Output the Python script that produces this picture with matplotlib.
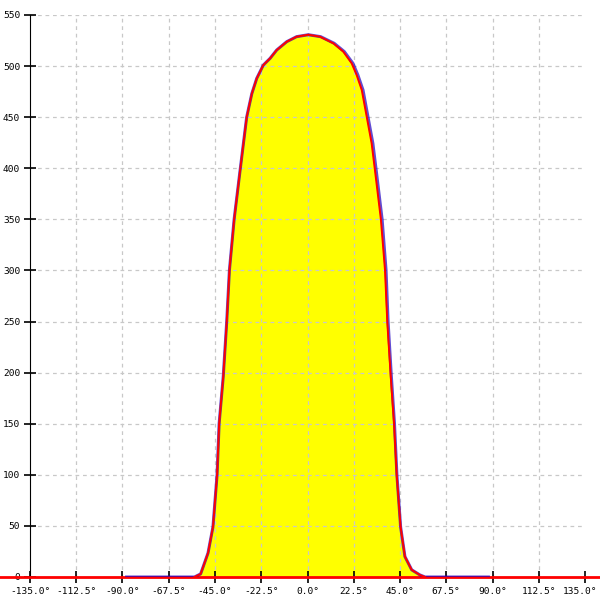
import numpy as np
import matplotlib
matplotlib.use('Agg')
import matplotlib.pyplot as plt
import matplotlib.transforms as mtransforms

# red trace: angle (deg) and value
red_deg = [-55, -52, -50.8, -48.4, -46, -44, -43, -41, -39.3, -38, -35.7, -32.8, -31.2,
           -29.6, -27.1, -24.7, -21.5, -18.2, -15.0, -10.1, -5.3, 0.4, 6.1, 12.6, 17.4,
           21.5, 23.9, 26.4, 28.8, 31.2, 32.8, 35.7, 37.7, 38.8, 40.5, 42.1, 43.4, 45.3,
           47.4, 50.7, 54.7, 57.2]
red_val = [0, 3, 9.8, 23.5, 49, 100, 150, 196, 250, 300, 350, 398, 424,
           450, 473, 488, 501, 507.6, 515.7, 523.9, 528.8, 530.7, 528.8, 522.3, 514.2,
           502.7, 491.3, 476.6, 450.5, 424.4, 398.3, 350, 300.5, 250, 196, 150.7, 100, 49,
           20, 7, 2, 0]

# blue trace: same shape, slightly wider on the right shoulder, spans -88..88
blue_deg = [-88, -55, -52, -50.8, -48.4, -46, -44, -43, -41, -39.3, -38, -35.7, -32.8, -31.2,
            -29.6, -27.1, -24.7, -21.5, -18.2, -15.0, -10.1, -5.3, 0.4, 6.4, 13.0, 17.9,
            22.1, 24.5, 27.0, 29.4, 31.8, 33.4, 36.3, 38.2, 39.2, 40.8, 42.3, 43.5, 45.3,
            47.4, 50.7, 54.7, 57.2, 88]
blue_val = [0, 0, 3, 9.8, 23.5, 49, 100, 150, 196, 250, 300, 350, 398, 424,
            450, 473, 488, 501, 507.6, 515.7, 523.9, 528.8, 530.7, 528.8, 522.3, 514.2,
            502.7, 491.3, 476.6, 450.5, 424.4, 398.3, 350, 300.5, 250, 196, 150.7, 100, 49,
            20, 7, 2, 0, 0]

xticks = np.arange(-135, 135.1, 22.5)
yticks = np.arange(0, 551, 50)

fig = plt.figure(figsize=(6, 6), dpi=100)
ax = fig.add_axes([30/600, 23/600, 555/600, 562/600])
ax.set_xlim(-135, 135)
ax.set_ylim(0, 550)

ax.fill_between(red_deg, red_val, 0, color='#ffff00', zorder=1, lw=0)

# dashed grid (none on the outer -135 / 135 verticals)
for x in xticks[1:-1]:
    ax.axvline(x, color='#c8c8c8', ls=(0, (3, 3)), lw=0.9, zorder=1.5)
for y in yticks[1:]:
    ax.axhline(y, color='#c8c8c8', ls=(0, (3, 3)), lw=0.9, zorder=1.5)

# red zero line spans the whole figure width
ax.plot([-150, 150], [0, 0], color='#ff0000', lw=2, zorder=3, clip_on=False)
ax.plot(blue_deg, blue_val, color='#2000c0', lw=2.2, alpha=0.7, zorder=4)
ax.plot(red_deg, red_val, color='#ff0000', lw=1.4, zorder=5)

for s in ['top', 'right']:
    ax.spines[s].set_visible(False)
ax.spines['left'].set_color('black')
ax.spines['bottom'].set_color('black')

ax.set_xticks(xticks)
ax.set_xticklabels(['%.1f°' % v for v in xticks])
ax.set_yticks(yticks)
ax.set_yticklabels(['%d' % v for v in yticks])
ax.tick_params(direction='inout', length=8, width=1.2, labelsize=6.8, pad=3)
for lab in ax.get_xticklabels() + ax.get_yticklabels():
    lab.set_family('DejaVu Sans Mono')

# nudge the last x label so it stays inside the figure
last = ax.get_xticklabels()[-1]
last.set_transform(last.get_transform() +
                   mtransforms.ScaledTranslation(-5/100, 0, fig.dpi_scale_trans))

fig.savefig('out.png', dpi=100)
